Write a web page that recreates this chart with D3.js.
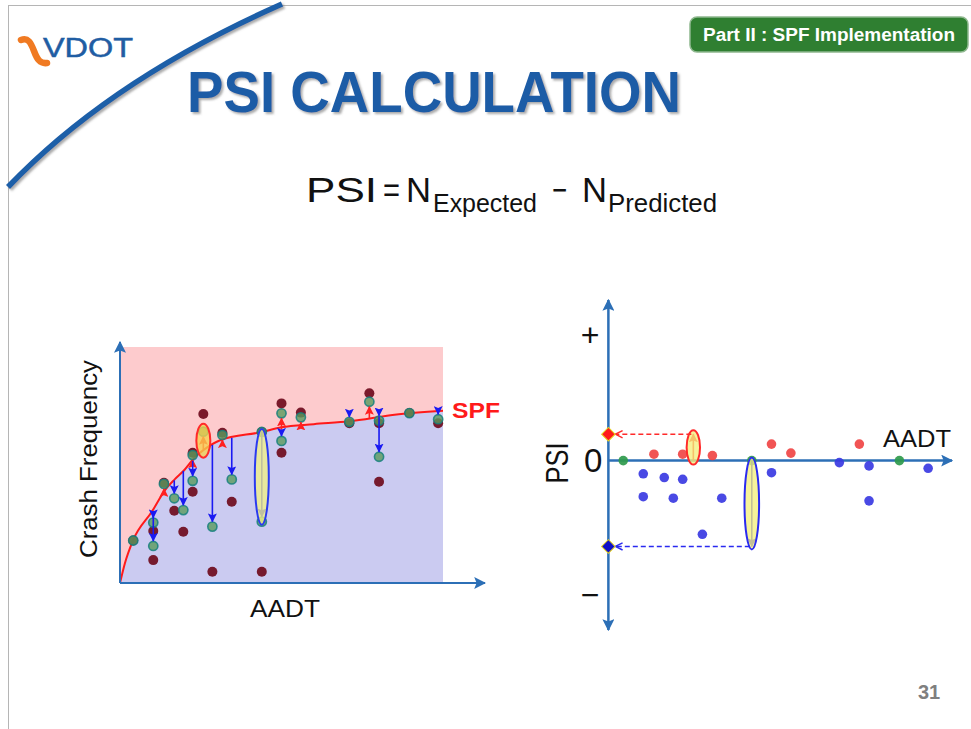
<!DOCTYPE html>
<html>
<head>
<meta charset="utf-8">
<script src="https://cdn.jsdelivr.net/npm/d3@7"></script>
<style>
  body { margin: 0; background: #fff; }
  svg { display: block; font-family: "Liberation Sans", Arial, sans-serif; }
</style>
</head>
<body>
<div id="slide"></div>
<script>
// one entry per site: AADT, observed crashes, EB expected, SPF predicted, PSI
const aadt      = [4.1, 10.3, 10.3, 13.6, 16.8, 19.6, 22.5, 22.5, 25.8, 28.6, 31.7, 34.6, 43.9, 43.9, 50, 50, 56, 71, 77.2, 80.2, 80.2, 89.6, 98.5];
const observed  = [18, 22, 9.7, 42.5, 30.6, 21.7, 55.2, 38.7, 71.6, 4.8, 63.7, 34.4, 64, 4.8, 76.1, 55.2, 72.2, 67.7, 80.4, 67.7, 42.9, 72, 67.7];
const expected  = [18, 25.6, 15.7, 42, 35.9, 30.9, 54.2, 43.3, 64.1, 23.9, 62.7, 43.9, 64, 26, 71.9, 60.2, 70.2, 68.3, 76.8, 68.8, 53.5, 72, 69.4];
const predicted = [18, 30.5, 30.5, 39.4, 43.5, 47.5, 51.8, 51.8, 56.5, 58.5, 60, 61.5, 64, 64, 65, 65, 67, 68.6, 69.8, 70.5, 70.5, 72, 72.8];
const psi       = [0, -6, -16.4, 2.9, -7.7, -17.1, 2.9, -8.5, 12, -33.5, 2.3, -17.1, 0, -39, 7.5, -5.5, 3.4, -0.9, 7.5, -2.4, -18.3, 0, -3.5];
const highlight = [8, 13];

// SPF curve
const spfAadt  = [0, 1.5, 4, 10, 14, 17, 20, 23, 26, 31, 44, 50, 60, 71, 85, 100];
const spfCrash = [0, 8.3, 18, 30.5, 39.5, 44, 48, 53, 56.5, 60.5, 64, 66, 67.3, 68.5, 71.3, 73];

const psiTicks = [57, 0, -61];
const psiTickLabels = ["+", "0", "\u2212"];

const W = 971, H = 729;
const axisBlue = "#2c6fb6";

const svg = d3.select("#slide").append("svg").attr("width", W).attr("height", H);
const defs = svg.append("defs");

const shadow = defs.append("filter").attr("id", "shadow").attr("x", "-10%").attr("y", "-10%").attr("width", "130%").attr("height", "140%");
shadow.append("feDropShadow").attr("dx", 2).attr("dy", 2).attr("stdDeviation", 1.2)
  .attr("flood-color", "#666").attr("flood-opacity", 0.55);

function arrowHead(id, color, size) {
  defs.append("marker").attr("id", id)
    .attr("viewBox", "0 0 10 10").attr("refX", 9).attr("refY", 5)
    .attr("markerWidth", size).attr("markerHeight", size)
    .attr("markerUnits", "userSpaceOnUse").attr("orient", "auto-start-reverse")
    .append("path").attr("d", "M0,0 L10,5 L0,10 L2,5 Z").attr("fill", color);
}
arrowHead("axisArrow", axisBlue, 12);
arrowHead("redArrow", "#ff2020", 9);
arrowHead("blueArrow", "#1a1af2", 9);

function openHead(id, color) {
  defs.append("marker").attr("id", id)
    .attr("viewBox", "0 0 10 10").attr("refX", 9).attr("refY", 5)
    .attr("markerWidth", 9).attr("markerHeight", 9)
    .attr("markerUnits", "userSpaceOnUse").attr("orient", "auto")
    .append("path").attr("d", "M1,1 L9,5 L1,9").attr("fill", "none")
    .attr("stroke", color).attr("stroke-width", 1.6);
}
openHead("redOpen", "#ff2a2a");
openHead("blueOpen", "#2a2af0");

// ---- slide frame, swoosh, logo, badge, title ----
svg.append("line").attr("x1", 8).attr("y1", 5.5).attr("x2", W).attr("y2", 5.5).attr("stroke", "#b5b5b5");
svg.append("line").attr("x1", 8.5).attr("y1", 5).attr("x2", 8.5).attr("y2", H).attr("stroke", "#b5b5b5");
svg.append("path").attr("d", "M8,187 Q110,80 282,4").attr("fill", "none")
  .attr("stroke", "#1f5ea8").attr("stroke-width", 5.5).attr("filter", "url(#shadow)");

svg.append("path").attr("d", "M21,40 C28,37 31,43 34,51 C37,59 40,64 47,63")
  .attr("fill", "none").attr("stroke", "#f07a22").attr("stroke-width", 6.5).attr("stroke-linecap", "round");
svg.append("text").attr("x", 43).attr("y", 57).attr("font-size", 27).attr("fill", "#1f5da3")
  .attr("stroke", "#1f5da3").attr("stroke-width", 0.5)
  .attr("textLength", 90).attr("lengthAdjust", "spacingAndGlyphs").text("VDOT");

svg.append("rect").attr("x", 690).attr("y", 17).attr("width", 278).attr("height", 35).attr("rx", 7)
  .attr("fill", "#2f7f31").attr("stroke", "#8fb88f").attr("stroke-width", 1.5);
svg.append("text").attr("x", 703).attr("y", 41).attr("font-size", 18).attr("font-weight", "bold")
  .attr("fill", "#fff").attr("textLength", 252).attr("lengthAdjust", "spacingAndGlyphs")
  .text("Part II : SPF Implementation");

svg.append("text").attr("x", 187).attr("y", 112).attr("font-size", 58).attr("font-weight", "bold")
  .attr("fill", "#1f5ca6").attr("filter", "url(#shadow)")
  .attr("textLength", 494).attr("lengthAdjust", "spacingAndGlyphs").text("PSI CALCULATION");

// equation
const eq = [
  { t: "PSI", x: 306, w: 71, y: 202, s: 35 },
  { t: "=", x: 383, w: 17, y: 202, s: 35 },
  { t: "N", x: 406, w: 25, y: 202, s: 35 },
  { t: "Expected", x: 433, w: 104, y: 212, s: 25 },
  { t: "\u2212", x: 552, w: 15, y: 202, s: 35 },
  { t: "N", x: 582, w: 25, y: 202, s: 35 },
  { t: "Predicted", x: 608, w: 109, y: 212, s: 25 }
];
svg.selectAll("text.eq").data(eq).enter().append("text").attr("class", "eq")
  .attr("x", d => d.x).attr("y", d => d.y).attr("font-size", d => d.s).attr("fill", "#111")
  .attr("textLength", d => d.w).attr("lengthAdjust", "spacingAndGlyphs").text(d => d.t);

const sites = aadt.map((a, i) => ({ i, a, obs: observed[i], exp: expected[i], pred: predicted[i], psi: psi[i] }));

// ---- left chart: crash frequency vs AADT ----
const xL = d3.scaleLinear().domain([0, 100]).range([120, 443]);
const yL = d3.scaleLinear().domain([0, 100]).range([583, 347]);
const spf = spfAadt.map((a, i) => [a, spfCrash[i]]);

const left = svg.append("g");
left.append("rect").attr("x", xL(0)).attr("y", yL(100))
  .attr("width", xL(100) - xL(0)).attr("height", yL(0) - yL(100)).attr("fill", "#fdcbcd");
left.append("path").datum(spf)
  .attr("d", d3.area().x(d => xL(d[0])).y0(yL(0)).y1(d => yL(d[1])).curve(d3.curveMonotoneX))
  .attr("fill", "#cbcbf1");
left.append("path").datum(spf)
  .attr("d", d3.line().x(d => xL(d[0])).y(d => yL(d[1])).curve(d3.curveMonotoneX))
  .attr("fill", "none").attr("stroke", "#ff1a1a").attr("stroke-width", 2);

left.selectAll("circle.obs").data(sites).enter().append("circle").attr("class", "obs")
  .attr("cx", d => xL(d.a)).attr("cy", d => yL(d.obs)).attr("r", 5)
  .attr("fill", "#6f0b1d").attr("fill-opacity", 0.92);
left.selectAll("circle.exp").data(sites).enter().append("circle").attr("class", "exp")
  .attr("cx", d => xL(d.a)).attr("cy", d => yL(d.exp)).attr("r", 4.6)
  .attr("fill", "#5a9a5c").attr("fill-opacity", 0.8)
  .attr("stroke", "#16807c").attr("stroke-width", 1.6).attr("stroke-opacity", 0.85);

const moved = sites.filter(d => Math.abs(d.exp - d.pred) > 0.2);
left.selectAll("line.adj").data(moved).enter().append("line").attr("class", "adj")
  .each(function (d) {
    const dir = d.exp > d.pred ? -1 : 1;           // -1 = upward on screen
    const y2 = yL(d.exp) - dir * 5;
    let y1 = yL(d.pred);
    if ((y2 - y1) * dir < 2) y1 = y2 - dir * 2;
    d3.select(this).attr("x1", xL(d.a)).attr("x2", xL(d.a)).attr("y1", y1).attr("y2", y2)
      .attr("stroke", dir < 0 ? "#ff2020" : "#1a1af2").attr("stroke-width", 1.6)
      .attr("marker-end", dir < 0 ? "url(#redArrow)" : "url(#blueArrow)");
  });

const hi = sites.filter(d => highlight.includes(d.i));
left.selectAll("ellipse").data(hi).enter().append("ellipse")
  .attr("cx", d => xL(d.a))
  .attr("cy", d => (yL(d.pred) + yL(d.exp)) / 2)
  .attr("rx", 7)
  .attr("ry", d => Math.abs(yL(d.pred) - yL(d.exp)) / 2 + (d.exp > d.pred ? 8 : 3))
  .attr("fill", d => d.exp > d.pred ? "#f6d04e" : "#efef86").attr("fill-opacity", 0.78)
  .attr("stroke", d => d.exp > d.pred ? "#ff2a2a" : "#2a3af0").attr("stroke-width", 2);

left.append("line").attr("x1", xL(0)).attr("y1", yL(0)).attr("x2", xL(0)).attr("y2", 342)
  .attr("stroke", axisBlue).attr("stroke-width", 2).attr("marker-end", "url(#axisArrow)");
left.append("line").attr("x1", xL(0)).attr("y1", yL(0)).attr("x2", 485).attr("y2", yL(0))
  .attr("stroke", axisBlue).attr("stroke-width", 2).attr("marker-end", "url(#axisArrow)");

left.append("text").attr("transform", "translate(97,459) rotate(-90)").attr("text-anchor", "middle")
  .attr("font-size", 23).attr("fill", "#111").attr("textLength", 198).attr("lengthAdjust", "spacingAndGlyphs")
  .text("Crash Frequency");
left.append("text").attr("x", 250).attr("y", 617).attr("font-size", 23).attr("fill", "#111")
  .attr("textLength", 70).attr("lengthAdjust", "spacingAndGlyphs").text("AADT");
left.append("text").attr("x", 452).attr("y", 418).attr("font-size", 22).attr("font-weight", "bold")
  .attr("fill", "#ff1a1a").attr("textLength", 48).attr("lengthAdjust", "spacingAndGlyphs").text("SPF");

// ---- right chart: PSI vs AADT ----
const xR = d3.scaleLinear().domain([0, 100]).range([610, 933]);
const yR = d3.scaleLinear().domain([-77, 73]).range([630, 300]);
const right = svg.append("g");
const axX = xR(-0.5);

const yAxis = right.append("g").attr("transform", `translate(${axX},0)`)
  .call(d3.axisLeft(yR).tickValues(psiTicks).tickFormat((d, i) => psiTickLabels[i]).tickSize(0).tickPadding(9));
yAxis.select(".domain").remove();
yAxis.selectAll("text").attr("font-family", "Liberation Sans, Arial, sans-serif")
  .attr("font-size", (d, i) => i === 1 ? 33 : 32).attr("fill", "#111")
  .attr("dx", (d, i) => i === 1 ? 3 : 0);

right.append("line").attr("x1", axX).attr("y1", yR(-77)).attr("x2", axX).attr("y2", yR(73))
  .attr("stroke", axisBlue).attr("stroke-width", 2.5)
  .attr("marker-start", "url(#axisArrow)").attr("marker-end", "url(#axisArrow)");
right.append("line").attr("x1", axX).attr("y1", yR(0)).attr("x2", 952).attr("y2", yR(0))
  .attr("stroke", axisBlue).attr("stroke-width", 2.5).attr("marker-end", "url(#axisArrow)");

const plain = sites.filter(d => !highlight.includes(d.i));
right.selectAll("circle").data(plain).enter().append("circle")
  .attr("cx", d => xR(d.a)).attr("cy", d => yR(d.psi)).attr("r", 4.8)
  .attr("fill", d => d.psi > 0.5 ? "#f04545" : d.psi < -0.5 ? "#3a3ae2" : "#2f9a4c")
  .attr("fill-opacity", 0.92);

hi.forEach(d => {
  const up = d.psi > 0;
  const col = up ? "#ff2a2a" : "#2a2af0";
  const y = yR(d.psi);
  right.append("line").attr("x1", xR(d.a)).attr("x2", xR(d.a)).attr("y1", yR(0)).attr("y2", y)
    .attr("stroke", up ? "#ff2020" : "#1a1af2").attr("stroke-width", 1.6)
    .attr("marker-end", up ? "url(#redArrow)" : "url(#blueArrow)");
  right.append("ellipse").attr("cx", xR(d.a)).attr("cy", (yR(0) + y) / 2)
    .attr("rx", up ? 6.7 : 7.3).attr("ry", Math.abs(yR(0) - y) / 2 + (up ? 4 : 3))
    .attr("fill", "#f3ef7e").attr("fill-opacity", 0.78).attr("stroke", col).attr("stroke-width", 2);
  right.append("line").attr("x1", xR(d.a) - 2).attr("x2", axX + 7).attr("y1", y).attr("y2", y)
    .attr("stroke", col).attr("stroke-width", 1.5).attr("stroke-dasharray", "5,3")
    .attr("marker-end", up ? "url(#redOpen)" : "url(#blueOpen)");
  right.append("path").attr("d", d3.symbol(d3.symbolSquare, 92)())
    .attr("transform", `translate(${axX},${y}) rotate(45)`)
    .attr("fill", up ? "#ff1a1a" : "#1010c8").attr("stroke", "#e6d21c").attr("stroke-width", 1);
});

right.append("text").attr("transform", "translate(568,463) rotate(-90)").attr("text-anchor", "middle")
  .attr("font-size", 32).attr("fill", "#111").attr("textLength", 41).attr("lengthAdjust", "spacingAndGlyphs")
  .text("PSI");
right.append("text").attr("x", 883).attr("y", 447).attr("font-size", 24).attr("fill", "#111")
  .attr("textLength", 68).attr("lengthAdjust", "spacingAndGlyphs").text("AADT");

svg.append("text").attr("x", 918).attr("y", 699).attr("font-size", 20).attr("font-weight", "bold")
  .attr("fill", "#7f7f7f").text("31");
</script>
</body>
</html>
